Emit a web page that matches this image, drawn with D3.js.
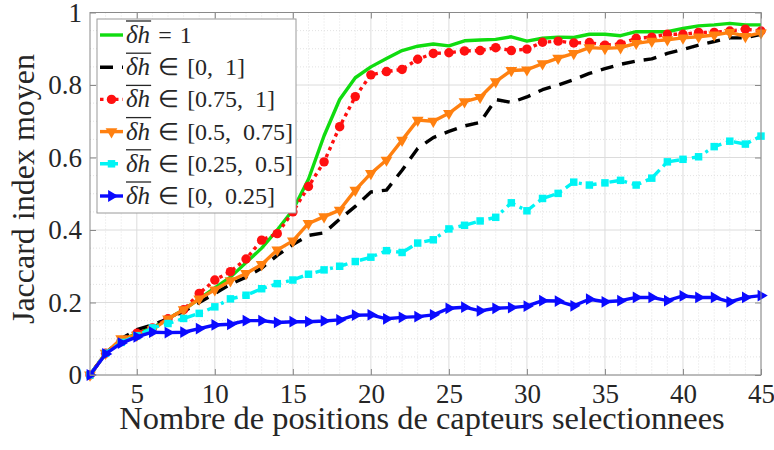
<!DOCTYPE html>
<html>
<head>
<meta charset="utf-8">
<script src="https://cdn.jsdelivr.net/npm/d3@7/dist/d3.min.js"></script>
<style>
  body { margin: 0; background: #fff; }
  svg text { font-family: 'Liberation Serif', 'Times New Roman', serif; fill: #262626; }
</style>
</head>
<body>
<div class="chart"></div>
<script>
// number of selected sensor positions
const positions = [2, 3, 4, 5, 6, 7, 8, 9, 10, 11, 12, 13, 14, 15, 16, 17, 18, 19, 20, 21, 22, 23,
	24, 25, 26, 27, 28, 29, 30, 31, 32, 33, 34, 35, 36, 37, 38, 39, 40, 41, 42, 43, 44, 45]

// mean jaccard index per class of dh
const dhEq1 = [0, 0.06, 0.095, 0.115, 0.13, 0.155, 0.18, 0.21, 0.24, 0.27, 0.31, 0.35, 0.40, 0.455,
	0.54, 0.66, 0.76, 0.82, 0.85, 0.873, 0.895, 0.907, 0.913, 0.908, 0.922, 0.924, 0.926, 0.933,
	0.921, 0.929, 0.932, 0.931, 0.94, 0.94, 0.936, 0.947, 0.947, 0.947, 0.956, 0.963, 0.966, 0.97,
	0.966, 0.966]
const dh0to1 = [0, 0.06, 0.1, 0.125, 0.138, 0.155, 0.175, 0.2, 0.225, 0.25, 0.27, 0.295, 0.33, 0.36,
	0.385, 0.392, 0.43, 0.465, 0.505, 0.51, 0.565, 0.625, 0.655, 0.672, 0.687, 0.697, 0.76, 0.752,
	0.767, 0.787, 0.8, 0.815, 0.832, 0.845, 0.857, 0.866, 0.872, 0.887, 0.898, 0.91, 0.92, 0.93,
	0.93, 0.94]
const dh075to1 = [0, 0.06, 0.095, 0.115, 0.13, 0.155, 0.18, 0.225, 0.262, 0.285, 0.32, 0.372, 0.39,
	0.45, 0.52, 0.588, 0.685, 0.768, 0.828, 0.837, 0.843, 0.871, 0.887, 0.889, 0.894, 0.895, 0.903,
	0.895, 0.899, 0.918, 0.921, 0.916, 0.917, 0.91, 0.913, 0.929, 0.932, 0.94, 0.94, 0.945, 0.945,
	0.949, 0.954, 0.949]
const dh05to075 = [0, 0.06, 0.1, 0.11, 0.125, 0.155, 0.18, 0.21, 0.235, 0.26, 0.28, 0.305, 0.345,
	0.37, 0.418, 0.437, 0.455, 0.51, 0.556, 0.593, 0.648, 0.703, 0.7, 0.722, 0.754, 0.766, 0.809,
	0.84, 0.842, 0.859, 0.874, 0.887, 0.903, 0.901, 0.903, 0.915, 0.921, 0.925, 0.93, 0.933, 0.938,
	0.945, 0.934, 0.944]
const dh025to05 = [0, 0.06, 0.09, 0.108, 0.13, 0.142, 0.156, 0.17, 0.188, 0.21, 0.22, 0.238, 0.252,
	0.262, 0.278, 0.29, 0.3, 0.313, 0.325, 0.343, 0.338, 0.364, 0.373, 0.403, 0.413, 0.425, 0.435,
	0.475, 0.453, 0.487, 0.501, 0.532, 0.524, 0.53, 0.537, 0.524, 0.543, 0.588, 0.595, 0.602, 0.63,
	0.645, 0.637, 0.659]
const dh0to025 = [0, 0.058, 0.088, 0.105, 0.118, 0.117, 0.118, 0.128, 0.138, 0.14, 0.15, 0.15, 0.145,
	0.147, 0.147, 0.149, 0.152, 0.165, 0.166, 0.155, 0.159, 0.161, 0.166, 0.184, 0.187, 0.177, 0.184,
	0.186, 0.19, 0.205, 0.204, 0.191, 0.209, 0.202, 0.205, 0.214, 0.214, 0.205, 0.218, 0.214, 0.214,
	0.202, 0.214, 0.219]

// legend text after the dh symbol: relation, then interval
const legendRel = ['=', '\u2208', '\u2208', '\u2208', '\u2208', '\u2208']
const legendRange = ['1', '[0,  1]', '[0.75,  1]', '[0.5,  0.75]', '[0.25,  0.5]', '[0,  0.25]']

const xTicks = [5, 10, 15, 20, 25, 30, 35, 40, 45]
const yTicks = [0, 0.2, 0.4, 0.6, 0.8, 1]
const yTickLabels = ['0', '0.2', '0.4', '0.6', '0.8', '1']

// styles for each curve, in plotting order
const series = [
	{ values: dhEq1, color: '#10dc10', dash: null, marker: null },
	{ values: dh0to1, color: '#000000', dash: '13,9', marker: null },
	{ values: dh075to1, color: '#ff1010', dash: '3.5,4', marker: 'circle' },
	{ values: dh05to075, color: '#ff8010', dash: null, marker: 'down' },
	{ values: dh025to05, color: '#00f4f4', dash: '10,5,3,5', marker: 'square' },
	{ values: dh0to025, color: '#0a0aff', dash: null, marker: 'right' }
]

const FONT = "'Liberation Serif', 'Times New Roman', serif"
const W = 774, H = 450
const margin = { top: 12.5, right: 13, bottom: 75, left: 90 }
const graphWidth = W - margin.left - margin.right
const graphHeight = H - margin.top - margin.bottom

const svg = d3.select('.chart')
	.append('svg')
	.attr('width', W)
	.attr('height', H)

const graph = svg.append('g')
	.attr('transform', `translate(${margin.left}, ${margin.top})`)

const x = d3.scaleLinear().domain([2, 45]).range([0, graphWidth])
const y = d3.scaleLinear().domain([0, 1]).range([graphHeight, 0])

// minor grid (dotted)
const minorX = d3.range(3, 45).filter(d => d % 5 !== 0)
const minorY = d3.range(1, 20).map(d => d / 20).filter((d, i) => (i + 1) % 4 !== 0)
graph.append('g').selectAll('line')
	.data(minorX).enter().append('line')
	.attr('x1', d => x(d)).attr('x2', d => x(d))
	.attr('y1', 0).attr('y2', graphHeight)
	.attr('stroke', '#e2e2e2').attr('stroke-dasharray', '1,2')
graph.append('g').selectAll('line')
	.data(minorY).enter().append('line')
	.attr('x1', 0).attr('x2', graphWidth)
	.attr('y1', d => y(d)).attr('y2', d => y(d))
	.attr('stroke', '#e2e2e2').attr('stroke-dasharray', '1,2')

// major grid
graph.append('g').selectAll('line')
	.data(xTicks).enter().append('line')
	.attr('x1', d => x(d)).attr('x2', d => x(d))
	.attr('y1', 0).attr('y2', graphHeight)
	.attr('stroke', '#dcdcdc')
graph.append('g').selectAll('line')
	.data(yTicks).enter().append('line')
	.attr('x1', 0).attr('x2', graphWidth)
	.attr('y1', d => y(d)).attr('y2', d => y(d))
	.attr('stroke', '#dcdcdc')

// marker shapes
const markerPath = (kind) => {
	if (kind === 'circle') return d3.symbol(d3.symbolCircle, 70)()
	if (kind === 'square') return d3.symbol(d3.symbolSquare, 56)()
	return d3.symbol(d3.symbolTriangle, 60)()
}
const markerRot = (kind) => kind === 'down' ? 180 : kind === 'right' ? 90 : 0

const line = d3.line()
	.x((d, i) => x(positions[i]))
	.y(d => y(d))

series.forEach(s => {
	graph.append('path')
		.datum(s.values)
		.attr('fill', 'none')
		.attr('stroke', s.color)
		.attr('stroke-width', 3.4)
		.attr('stroke-dasharray', s.dash)
		.attr('stroke-linejoin', 'round')
		.attr('d', line)

	if (s.marker) {
		graph.append('g').selectAll('path')
			.data(s.values).enter().append('path')
			.attr('d', markerPath(s.marker))
			.attr('fill', s.color)
			.attr('transform', (d, i) => `translate(${x(positions[i])}, ${y(d)}) rotate(${markerRot(s.marker)})`)
	}
})

// axes, ticks pointing inward on all four sides
const xAxis = d3.axisBottom(x).tickValues(xTicks).tickSize(-6).tickPadding(9)
const yAxis = d3.axisLeft(y).tickValues(yTicks).tickSize(-6).tickPadding(8)
	.tickFormat((d, i) => yTickLabels[i])

graph.append('g')
	.attr('transform', `translate(0, ${graphHeight})`)
	.call(xAxis)
graph.append('g').call(yAxis)
graph.append('g').call(d3.axisTop(x).tickValues(xTicks).tickSize(-6).tickFormat(''))
graph.append('g').attr('transform', `translate(${graphWidth}, 0)`)
	.call(d3.axisRight(y).tickValues(yTicks).tickSize(-6).tickFormat(''))

graph.selectAll('.domain').remove()
graph.selectAll('.tick line').attr('stroke', '#8a8a8a')
graph.selectAll('.tick text')
	.style('font-family', FONT)
	.style('font-size', '27px')
	.style('fill', '#262626')

graph.append('rect')
	.attr('width', graphWidth)
	.attr('height', graphHeight)
	.attr('fill', 'none')
	.attr('stroke', '#8a8a8a')

// axis titles
svg.append('text')
	.attr('x', 422)
	.attr('y', 429)
	.attr('text-anchor', 'middle')
	.style('font-size', '32.4px')
	.text('Nombre de positions de capteurs selectionnees')

svg.append('text')
	.attr('transform', 'translate(34, 189) rotate(-90)')
	.attr('text-anchor', 'middle')
	.style('font-size', '32px')
	.text('Jaccard index moyen')

// legend
const legend = svg.append('g').attr('transform', 'translate(97, 19)')
legend.append('rect')
	.attr('width', 199)
	.attr('height', 194)
	.attr('fill', '#fff')
	.attr('stroke', '#9a9a9a')

series.forEach((s, i) => {
	const cy = 16 + i * 32.2
	const row = legend.append('g').attr('transform', `translate(0, ${cy})`)
	row.append('line')
		.attr('x1', 3).attr('x2', 26)
		.attr('y1', 0).attr('y2', 0)
		.attr('stroke', s.color)
		.attr('stroke-width', 3.4)
		.attr('stroke-dasharray', s.dash)
	if (s.marker) {
		row.append('path')
			.attr('d', markerPath(s.marker))
			.attr('fill', s.color)
			.attr('transform', `translate(14.5, 0) rotate(${markerRot(s.marker)})`)
	}
	const sym = row.append('text')
		.attr('x', 29)
		.attr('y', 8)
		.style('font-size', '25px')
		.style('font-style', 'italic')
		.text('\u03b4h')
	const len = sym.node().getComputedTextLength()
	row.append('line')
		.attr('x1', 29).attr('x2', 29 + len + 1)
		.attr('y1', -14).attr('y2', -14)
		.attr('stroke', '#262626')
		.attr('stroke-width', 1.3)
	const rel = row.append('text')
		.attr('x', 29 + len + 8)
		.attr('y', 8)
		.style('font-size', '24px')
		.text(legendRel[i])
	const relLen = rel.node().getComputedTextLength()
	row.append('text')
		.attr('x', 29 + len + 8 + relLen + 8)
		.attr('y', 8)
		.style('font-size', '24px')
		.style('white-space', 'pre')
		.text(legendRange[i])
})
</script>
</body>
</html>
